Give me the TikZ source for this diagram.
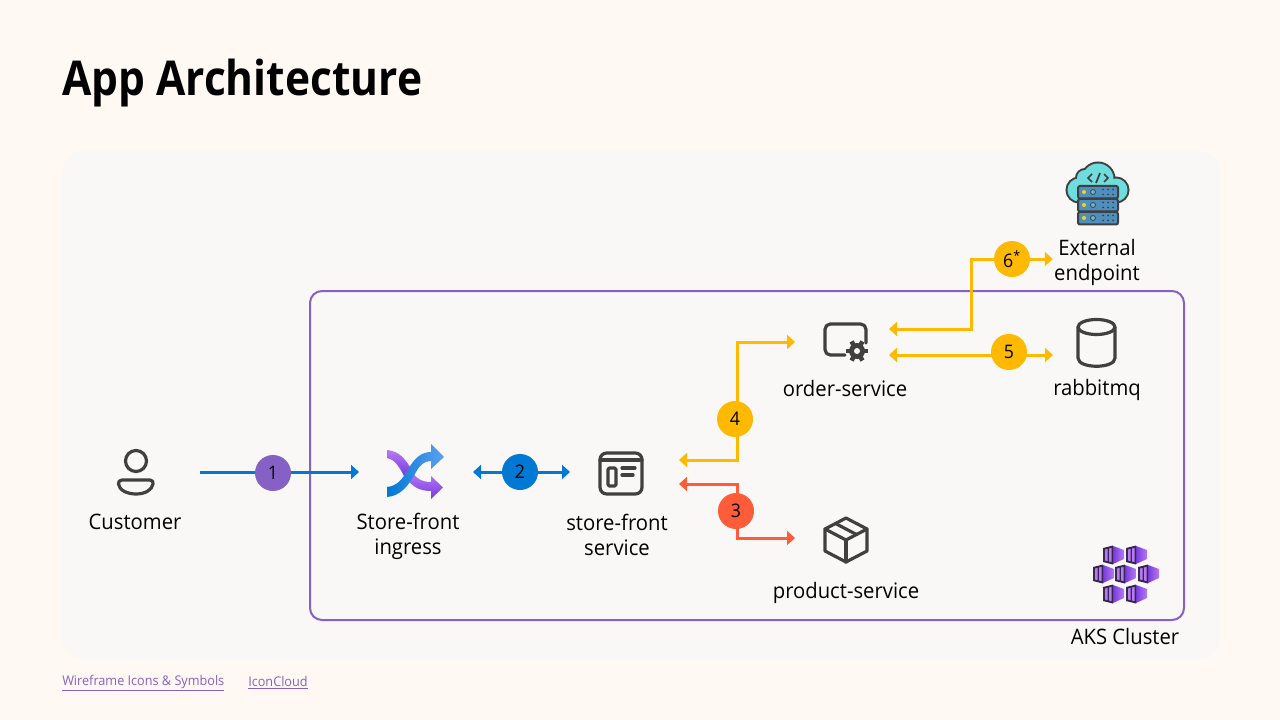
\documentclass[tikz,border=0pt]{standalone}
\usepackage{fontspec}
\setmainfont[FakeStretch=0.95]{Open Sans}
\newfontfamily\titlefont[FakeStretch=0.885]{Open Sans}
\usetikzlibrary{arrows.meta}
\definecolor{pagebg}{HTML}{FFF8F3}
\definecolor{panelbg}{HTML}{F9F8F6}
\definecolor{akspurple}{HTML}{8661C5}
\definecolor{linkblue}{HTML}{0078D4}
\definecolor{linkyellow}{HTML}{FFB900}
\definecolor{linkred}{HTML}{FF5C39}
\definecolor{icongrey}{HTML}{404040}
\definecolor{cloudteal}{HTML}{6FDDDD}
\definecolor{rackblue}{HTML}{4E8FBF}
\definecolor{lightviolet}{HTML}{B77AF4}
\definecolor{deepviolet}{HTML}{773ADC}
\definecolor{lightblue}{HTML}{5EA0EF}
\tikzset{
  main label/.style={font=\fontsize{16}{18.75}\selectfont,align=center,text=black,inner sep=0pt},
  icon node/.style={minimum height=40pt,inner sep=0pt,outer sep=0pt},
  step badge/.style={circle,minimum size=27pt,inner sep=0pt,font=\fontsize{14}{16}\selectfont},
  both link/.style={line width=2.25pt,{Triangle[length=6pt,width=10.5pt]}-{Triangle[length=6pt,width=10.5pt]}},
  one link/.style={line width=2.25pt,-{Triangle[length=6pt,width=10.5pt]}},
  wire/.style={draw=icongrey,line width=2.4pt,line cap=round,line join=round},
  foot link/.style={font=\fontsize{10}{12}\selectfont,text=akspurple,inner sep=0pt,anchor=west}
}
\begin{document}
\begin{tikzpicture}[x=0.75pt,y=-0.75pt]
\useasboundingbox (0,0) rectangle (1280,720);
\fill[pagebg] (0,0) rectangle (1280,720);
\fill[panelbg,rounded corners=16pt] (62,151) rectangle (1220,659);
\draw[akspurple,line width=1.5pt,rounded corners=9pt] (310,291) rectangle (1184,620);
\node[font=\titlefont\fontsize{36}{40}\selectfont\bfseries,anchor=base west,inner sep=0pt] (title) at (62,96) {App Architecture};
% anchors of the connectors
\node[icon node,minimum width=97.5pt] (customer) at (135,472) {};
\node[icon node,minimum width=85.5pt] (ingress) at (416,472) {};
\node[icon node,minimum width=81.75pt] (frontsvc) at (624.5,472) {};
\node[icon node,minimum width=70.5pt] (ordersvc) at (842,342) {};
\node[icon node,minimum width=70.5pt] (productsvc) at (842,538) {};
\node[icon node,minimum width=66pt] (rabbit) at (1097,355) {};
\node[main label,minimum width=66pt] (external) at (1097,262) {External\\endpoint};
\coordinate (bend4) at (737,419);
\coordinate (bend3) at (737,511);
\coordinate (bend6) at (971,300);
% connectors
\draw[one link,linkblue] (customer) -- (ingress);
\draw[both link,linkblue] (ingress) -- (frontsvc);
\draw[both link,linkyellow] ([yshift=9pt]frontsvc.east) -| (bend4) |- (ordersvc.west);
\draw[both link,linkred] ([yshift=-9pt]frontsvc.east) -| (bend3) |- (productsvc.west);
\draw[both link,linkyellow] ([yshift=9.75pt]ordersvc.east) -| (bend6) |- ([yshift=2.25pt]external.west);
\draw[both link,linkyellow] ([yshift=-9.75pt]ordersvc.east) -- (rabbit.west);
% step badges
\node[step badge,fill=akspurple] (s1) at (273,473) {1};
\node[step badge,fill=linkblue] (s2) at (520,472) {2};
\node[step badge,fill=linkred] (s3) at (736,511) {3};
\node[step badge,fill=linkyellow] (s4) at (735,419) {4};
\node[step badge,fill=linkyellow] (s5) at (1009,352) {5};
\node[step badge,fill=linkyellow] (s6) at (1012,259) {6\textsuperscript{*}};
% labels
\node[main label] (customerlabel) at (135,522) {Customer};
\node[main label] (ingresslabel) at (408,536) {Store-front\\ingress};
\node[main label] (frontlabel) at (617,535) {store-front\\service};
\node[main label] (orderlabel) at (845,388) {order-service};
\node[main label] (productlabel) at (846,593) {product-service};
\node[main label] (rabbitlabel) at (1097,390) {rabbitmq};
\node[main label] (akslabel) at (1125,636) {AKS Cluster};
\node[foot link] (wirelink) at (62,683) {\underline{Wireframe Icons \& Symbols}};
\node[foot link] (cloudlink) at (248,683) {\underline{IconCloud}};
% customer icon
\draw[wire] (136,461) circle[radius=10.5];
\draw[wire] (122,480) -- (150,480) .. controls (153,480) and (153,482) .. (153,484) .. controls (152,490) and (145,494) .. (136,494) .. controls (127,494) and (119,490) .. (118.5,484) .. controls (118.5,482) and (119,480) .. (122,480) -- cycle;
% ingress icon
\shade[top color=lightviolet,bottom color=deepviolet] (387,450) .. controls (399,451) and (405,459) .. (410,467) -- (404,476) .. controls (399,466) and (394,459) .. (387,458) -- cycle;
\shade[top color=lightviolet,bottom color=deepviolet] (413,473) .. controls (418,480) and (423,482) .. (431,482) -- (431,476) -- (443,487.5) -- (431,499) -- (431,491) .. controls (420,491) and (413,487) .. (408,480) -- cycle;
\shade[left color=linkblue,right color=lightblue] (387,487) .. controls (398,486) and (403,478) .. (409,468) .. controls (414,459) and (421,452) .. (431,452) -- (431,444) -- (444,457) -- (431,469) -- (431,461) .. controls (424,461) and (420,465) .. (416,472) .. controls (409,485) and (401,496) .. (387,497) -- cycle;
% store-front service icon
\draw[wire,rounded corners=5pt] (600,453) rectangle (642,494);
\draw[wire] (600,460) -- (642,460);
\draw[wire,rounded corners=1pt] (608,468) rectangle (616,486);
\draw[wire] (622,468) -- (635,468);
\draw[wire] (622,475) -- (633,475);
% order-service icon
\draw[wire,rounded corners=4pt] (845,355) -- (825,355) -- (825,324) -- (866,324) -- (866,343);
\foreach \a in {0,60,120}
  \draw[icongrey,line width=3.4pt] (857,351) ++(\a:11) -- ++(\a:-22);
\fill[icongrey] (857,351) circle[radius=8];
\fill[panelbg] (857,351) circle[radius=3];
% product-service icon
\draw[wire] (846,518) -- (867,529) -- (867,551) -- (846,562) -- (825,551) -- (825,529) -- cycle;
\draw[wire] (825,529) -- (846,540) -- (867,529);
\draw[wire] (846,540) -- (846,562);
\draw[wire] (835.5,523.5) -- (856.5,534.5);
% rabbitmq icon
\draw[wire] (1078,327) -- (1078,358) .. controls (1078,369) and (1115,369) .. (1115,358) -- (1115,327);
\draw[wire] (1096.5,327) ellipse[x radius=18.5,y radius=7.5];
% external endpoint icon
\foreach \cx/\cy/\r in {1079/190/11.5,1085/178/8,1098/179/15.5,1116/190/11.5}
  \draw[icongrey,line width=3pt] (\cx,\cy) circle[radius=\r];
\foreach \cx/\cy/\r in {1079/190/11.5,1085/178/8,1098/179/15.5,1116/190/11.5}
  \fill[cloudteal] (\cx,\cy) circle[radius=\r];
\fill[cloudteal] (1079,180) rectangle (1116,201);
\draw[icongrey,line width=1.3pt] (1092,174) -- (1088,178) -- (1092,182) (1104,174) -- (1108,178) -- (1104,182) (1100,173) -- (1096,183);
\foreach \ry in {186,199,212} {
  \draw[icongrey,fill=rackblue,line width=1.5pt,rounded corners=1.5pt] (1078,\ry) rectangle (1118,\ry+12.5);
  \fill[yellow!70!orange] (1084,\ry+6) circle[radius=2];
  \draw[icongrey,fill=cloudteal!60!rackblue,line width=.6pt] (1093,\ry+6) circle[radius=2.5];
  \foreach \dx in {1103,1108,1113} {
    \fill[icongrey] (\dx,\ry+3.5) circle[radius=1];
    \fill[icongrey] (\dx,\ry+8.5) circle[radius=1];
  }
}
% aks icon
\foreach \cx/\cy in {1113/555,1136/555,1103/574,1125/574,1148/574,1113/594,1136/594} {
  \begin{scope}[shift={(\cx,\cy)}]
    \shade[left color=deepviolet,right color=lightviolet] (0,-9) -- (11,-5) -- (11,4) -- (0,9) -- cycle;
    \fill[akspurple!40!black] (-10,-7) -- (0,-9.5) -- (0,9.5) -- (-10,7) -- cycle;
    \fill[lightviolet] (-8,-5.5) -- (-5.5,-6) -- (-5.5,6) -- (-8,5.5) -- cycle;
    \fill[lightviolet] (-4,-6.5) -- (-1.5,-7) -- (-1.5,7) -- (-4,6.5) -- cycle;
  \end{scope}
}
\end{tikzpicture}
\end{document}
